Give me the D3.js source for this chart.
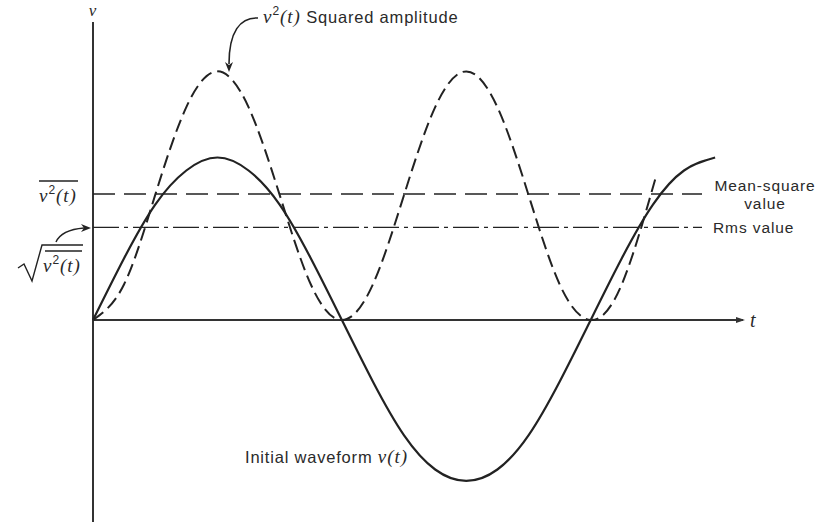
<!DOCTYPE html>
<html>
<head>
<meta charset="utf-8">
<script src="https://cdn.jsdelivr.net/npm/d3@7"></script>
<style>
  html, body { margin: 0; padding: 0; background: #fff; }
  svg { display: block; }
  .lbl { font-family: "Liberation Sans", Arial, sans-serif; font-size: 16.5px; letter-spacing: 0.8px; fill: #2a2a2a; }
  .side { font-size: 15.5px; letter-spacing: 0.9px; }
  .math { font-family: "Liberation Serif", "DejaVu Serif", serif; font-style: italic; font-size: 19px; letter-spacing: 1px; }
</style>
</head>
<body>
<svg id="chart" width="827" height="522"></svg>
<script>
// Time samples, in half-periods of the waveform
const tSamples = [0, 0.125, 0.25, 0.375, 0.5, 0.625, 0.75, 0.875, 1.0,
                  1.125, 1.25, 1.375, 1.5, 1.625, 1.75, 1.875, 2.0,
                  2.125, 2.25, 2.375, 2.5];
// Initial waveform v(t)
const vSamples = [0, 0.38, 0.71, 0.92, 1.0, 0.92, 0.71, 0.38, 0,
                  -0.38, -0.71, -0.92, -0.99, -0.92, -0.71, -0.38, 0,
                  0.38, 0.71, 0.92, 1.0];
// Squared amplitude v^2(t), drawn on the same vertical axis
const v2Times   = [0, 0.125, 0.25, 0.375, 0.5, 0.625, 0.75, 0.875, 1.0,
                   1.125, 1.25, 1.375, 1.5, 1.625, 1.75, 1.875, 2.0,
                   2.125, 2.26];
const v2Samples = [0, 0.22, 0.77, 1.31, 1.53, 1.31, 0.77, 0.22, 0,
                   0.22, 0.77, 1.31, 1.53, 1.31, 0.77, 0.22, 0,
                   0.22, 0.87];
// Reference levels
const meanSquare = 0.775;
const rmsValue = 0.57;

const svg = d3.select("#chart");
const ink = "#222";

const x = d3.scaleLinear().domain([0, 2.62]).range([93, 745]);
const y = d3.scaleLinear().domain([-1, 1]).range([482.5, 157.5]);

// Axes
svg.append("line")
  .attr("x1", x(0)).attr("x2", x(0))
  .attr("y1", 22).attr("y2", 522)
  .attr("stroke", "#333").attr("stroke-width", 2);
svg.append("line")
  .attr("x1", x(0)).attr("x2", x(2.62) - 2)
  .attr("y1", y(0)).attr("y2", y(0))
  .attr("stroke", "#333").attr("stroke-width", 1.8);
svg.append("path")
  .attr("d", `M${x(2.62)},${y(0)} l-9,-3 l0,6 z`)
  .attr("fill", "#333");

svg.append("text").attr("class", "lbl math")
  .attr("x", x(0)).attr("y", 16).attr("text-anchor", "middle")
  .style("font-size", "17px").text("v");
svg.append("text").attr("class", "lbl math")
  .attr("x", x(2.62) + 5).attr("y", y(0) + 7)
  .style("font-size", "20px").text("t");

// Mean-square and rms levels
svg.append("line")
  .attr("x1", x(0)).attr("x2", 702)
  .attr("y1", y(meanSquare)).attr("y2", y(meanSquare))
  .attr("stroke", ink).attr("stroke-width", 1.4)
  .attr("stroke-dasharray", "22 9");
svg.append("line")
  .attr("x1", x(0)).attr("x2", 702)
  .attr("y1", y(rmsValue)).attr("y2", y(rmsValue))
  .attr("stroke", ink).attr("stroke-width", 1.4)
  .attr("stroke-dasharray", "26 5 4 5");

// Curves
const line = d3.line()
  .x(d => x(d[0])).y(d => y(d[1]))
  .curve(d3.curveNatural);

svg.append("path")
  .datum(v2Times.map((t, i) => [t, v2Samples[i]]))
  .attr("d", line)
  .attr("fill", "none").attr("stroke", ink)
  .attr("stroke-width", 2).attr("stroke-dasharray", "13 6");

svg.append("path")
  .datum(tSamples.map((t, i) => [t, vSamples[i]]))
  .attr("d", line)
  .attr("fill", "none").attr("stroke", ink)
  .attr("stroke-width", 2.2);

// v^2(t) label built from tspans
function v2Label(sel) {
  sel.append("tspan").attr("class", "math").text("v");
  sel.append("tspan").attr("dy", -8).style("font-size", "12px").text("2");
  sel.append("tspan").attr("dy", 8).attr("class", "math").text("(t)");
  return sel;
}

// Annotations
const topLbl = svg.append("text").attr("class", "lbl").attr("x", 263).attr("y", 23);
v2Label(topLbl);
topLbl.append("tspan").text(" Squared amplitude");

svg.append("path")
  .attr("d", "M258,18 C240,17 229,32 229,64")
  .attr("fill", "none").attr("stroke", ink).attr("stroke-width", 1.6);
svg.append("path")
  .attr("d", "M229,72 l-4,-10 l4,3 l4,-3 z")
  .attr("fill", ink);

// Right-hand labels
svg.append("text").attr("class", "lbl side").attr("x", 765).attr("y", 191)
  .attr("text-anchor", "middle").text("Mean-square");
svg.append("text").attr("class", "lbl side").attr("x", 765).attr("y", 209)
  .attr("text-anchor", "middle").text("value");
svg.append("text").attr("class", "lbl side").attr("x", 713).attr("y", 233)
  .text("Rms value");

svg.append("text").attr("class", "lbl").attr("x", 245).attr("y", 463).text("Initial waveform ")
  .append("tspan").attr("class", "math").text("v(t)");

// Mean-square label on the vertical axis
v2Label(svg.append("text").attr("class", "lbl").attr("x", 39).attr("y", 202));
svg.append("line").attr("x1", 39).attr("x2", 78).attr("y1", 181).attr("y2", 181)
  .attr("stroke", ink).attr("stroke-width", 1.3);

// Rms label: radical over the mean square
svg.append("path")
  .attr("d", "M18,268 L24,264 L32,281 L42,245 L83,245")
  .attr("fill", "none").attr("stroke", ink).attr("stroke-width", 1.4);
svg.append("line").attr("x1", 45).attr("x2", 82).attr("y1", 251).attr("y2", 251)
  .attr("stroke", ink).attr("stroke-width", 1.3);
v2Label(svg.append("text").attr("class", "lbl").attr("x", 43).attr("y", 272));

svg.append("path")
  .attr("d", "M56,242 C60,233 72,229 84,228")
  .attr("fill", "none").attr("stroke", ink).attr("stroke-width", 1.5);
svg.append("path")
  .attr("d", "M91,228 l-10,-4 l3,4 l-3,4 z")
  .attr("fill", ink);
</script>
</body>
</html>
